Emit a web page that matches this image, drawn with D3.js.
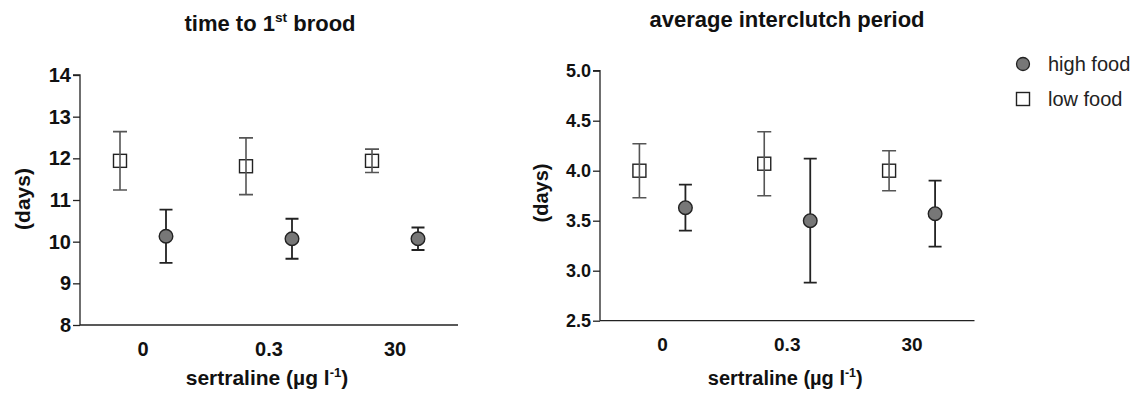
<!DOCTYPE html>
<html>
<head>
<meta charset="utf-8">
<script src="https://cdn.jsdelivr.net/npm/d3@7"></script>
<style>
  html, body { margin: 0; padding: 0; background: #fff; }
  svg { display: block; font-family: "Liberation Sans", Arial, sans-serif; }
</style>
</head>
<body>
<svg id="chart" width="1141" height="400"></svg>
<script>
// ---- data ----
const categories = ["0", "0.3", "30"];
const seriesNames = ["high food", "low food"];

// time to 1st brood (days)
const broodHighMean = [10.13, 10.07, 10.07];
const broodHighErr  = [0.64, 0.48, 0.27];
const broodLowMean  = [11.94, 11.81, 11.94];
const broodLowErr   = [0.70, 0.68, 0.28];
const broodTicks    = [8, 9, 10, 11, 12, 13, 14];

// average interclutch period (days)
const interHighMean = [3.63, 3.50, 3.57];
const interHighErr  = [0.23, 0.62, 0.33];
const interLowMean  = [4.00, 4.07, 4.00];
const interLowErr   = [0.27, 0.32, 0.20];
const interTicks    = [2.5, 3.0, 3.5, 4.0, 4.5, 5.0];

const svg = d3.select("#chart");

function panel(cfg) {
  const g = svg.append("g");
  const x = d3.scaleBand().domain(categories).range([cfg.x0, cfg.x1]);
  const y = d3.scaleLinear().domain(cfg.domain).range([cfg.yb, cfg.yt]);
  const off = 23;

  // y axis
  const ya = g.append("g").attr("transform", `translate(${cfg.x0},0)`)
    .call(d3.axisLeft(y).tickValues(cfg.ticks).tickFormat(cfg.fmt).tickSize(7).tickPadding(2));
  ya.select(".domain").attr("stroke", "#222").attr("stroke-width", 1.3).attr("d", `M-7,${y(cfg.domain[1])}H0V${y(cfg.domain[0])}`);
  ya.selectAll(".tick line").attr("stroke", "#222").attr("stroke-width", 1.3);
  ya.selectAll(".tick text").attr("font-size", cfg.tickFs).attr("font-weight", "bold")
    .attr("fill", "#111").attr("font-family", "Liberation Sans, Arial, sans-serif");

  // x axis (no ticks)
  const xa = g.append("g").attr("transform", `translate(0,${cfg.yb})`)
    .call(d3.axisBottom(x).tickSize(0).tickPadding(17));
  xa.select(".domain").attr("stroke", "#222").attr("stroke-width", 1.3).attr("d", `M${cfg.x0},0H${cfg.x1}`);
  xa.selectAll(".tick text").attr("font-size", cfg.xTickFs).attr("font-weight", "bold")
    .attr("fill", "#111").attr("font-family", "Liberation Sans, Arial, sans-serif")
    .attr("dy", "0.71em");

  const cx = c => x(c) + x.bandwidth() / 2;

  const lowData = categories.map((c, i) => ({c, m: cfg.lowMean[i], e: cfg.lowErr[i]}));
  const highData = categories.map((c, i) => ({c, m: cfg.highMean[i], e: cfg.highErr[i]}));

  // low food (squares)
  g.selectAll("rect.low").data(lowData).join("rect").attr("class", "low")
    .attr("x", d => cx(d.c) - off - 6.5).attr("y", d => y(d.m) - 6.5)
    .attr("width", 13).attr("height", 13)
    .attr("fill", "#fff").attr("stroke", "#222").attr("stroke-width", 1.4);

  const errs = (data, dx, cap, col, sw) => {
    const eg = g.append("g").attr("stroke", col).attr("stroke-width", sw).attr("fill", "none");
    eg.selectAll("path").data(data).join("path")
      .attr("d", d => {
        const px = cx(d.c) + dx, t = y(d.m + d.e), b = y(d.m - d.e);
        return `M${px},${t}V${b}M${px - cap},${t}H${px + cap}M${px - cap},${b}H${px + cap}`;
      });
  };
  errs(lowData, -off, 7, "#555", 1.6);
  errs(highData, off, 6.5, "#222", 1.8);

  // high food (circles)
  g.selectAll("circle.high").data(highData).join("circle").attr("class", "high")
    .attr("cx", d => cx(d.c) + off).attr("cy", d => y(d.m)).attr("r", 6.8)
    .attr("fill", "#777").attr("stroke", "#222").attr("stroke-width", 1.4);

  // title
  const t = g.append("text").attr("x", cfg.titleX).attr("y", cfg.titleY)
    .attr("text-anchor", "middle").attr("font-size", cfg.titleFs).attr("font-weight", "bold").attr("fill", "#111");
  cfg.title.forEach(part => {
    const ts = t.append("tspan").text(part.t);
    if (part.sup) ts.attr("font-size", cfg.titleFs * 0.62).attr("dy", -9);
    if (part.after) ts.attr("dy", 9);
  });

  // axis labels
  const xl = g.append("text").attr("x", (cfg.x0 + cfg.x1) / 2 - 2).attr("y", 385)
    .attr("text-anchor", "middle").attr("font-size", cfg.labFs).attr("font-weight", "bold").attr("fill", "#111");
  xl.append("tspan").text("sertraline (µg l");
  xl.append("tspan").text("-1").attr("font-size", cfg.labFs * 0.62).attr("dy", -8);
  xl.append("tspan").text(")").attr("dy", 8);

  g.append("text").attr("transform", `translate(${cfg.yLabX},${cfg.yLabY}) rotate(-90)`)
    .attr("text-anchor", "middle").attr("font-size", cfg.labFs).attr("font-weight", "bold").attr("fill", "#111")
    .text("(days)");
}

panel({
  x0: 80, x1: 458, yt: 75, yb: 325, domain: [8, 14], ticks: broodTicks, fmt: d3.format("d"),
  lowMean: broodLowMean, lowErr: broodLowErr, highMean: broodHighMean, highErr: broodHighErr,
  tickFs: 20, xTickFs: 20, titleFs: 22, labFs: 21,
  title: [{t: "time to 1"}, {t: "st", sup: true}, {t: " brood", after: true}],
  titleX: 270, titleY: 31, yLabX: 30, yLabY: 199
});

panel({
  x0: 600, x1: 974.5, yt: 70.7, yb: 320.7, domain: [2.5, 5.0], ticks: interTicks, fmt: d3.format(".1f"),
  lowMean: interLowMean, lowErr: interLowErr, highMean: interHighMean, highErr: interHighErr,
  tickFs: 18, xTickFs: 19, titleFs: 22, labFs: 20,
  title: [{t: "average interclutch period"}],
  titleX: 787, titleY: 27, yLabX: 548, yLabY: 193
});

// legend
const lg = svg.append("g");
const legendRows = [
  {name: seriesNames[0], y: 64, shape: "circle"},
  {name: seriesNames[1], y: 99, shape: "square"}
];
legendRows.forEach(r => {
  if (r.shape === "circle") {
    lg.append("circle").attr("cx", 1023).attr("cy", r.y).attr("r", 6.5)
      .attr("fill", "#777").attr("stroke", "#222").attr("stroke-width", 1.3);
  } else {
    lg.append("rect").attr("x", 1023 - 6.5).attr("y", r.y - 6.5).attr("width", 13).attr("height", 13)
      .attr("fill", "#fff").attr("stroke", "#222").attr("stroke-width", 1.4);
  }
  lg.append("text").attr("x", 1048).attr("y", r.y + 6.5).attr("font-size", 20).attr("fill", "#222").text(r.name);
});
</script>
</body>
</html>
